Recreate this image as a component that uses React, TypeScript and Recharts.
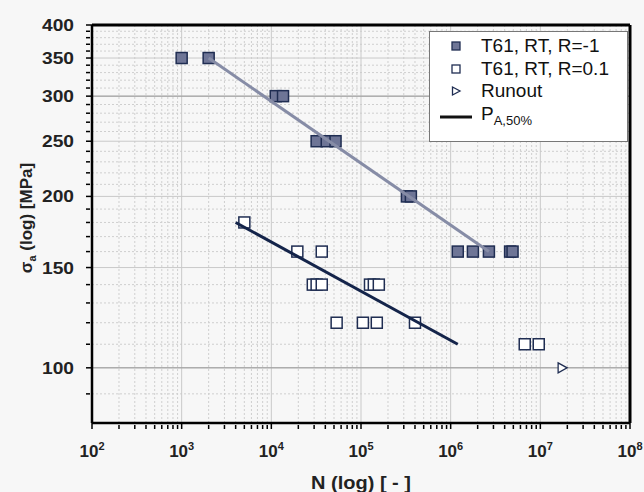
import React from "react";
import {
  CartesianGrid,
  Legend,
  ReferenceLine,
  Scatter,
  ScatterChart,
  XAxis,
  YAxis,
} from "recharts";

// T61, RT, R=-1 (filled squares)
const cyclesR1 = [1000, 2000, 11200, 13500, 32000, 41500, 52000, 325000, 360000, 1200000, 1770000, 2670000, 4600000, 4900000];
const stressR1 = [350, 350, 300, 300, 250, 250, 250, 200, 200, 160, 160, 160, 160, 160];

// T61, RT, R=0.1 (open squares)
const cyclesR01 = [5000, 19500, 36500, 29000, 32000, 36500, 126000, 139000, 158000, 53500, 105000, 150000, 400000, 6700000, 9600000];
const stressR01 = [180, 160, 160, 140, 140, 140, 140, 140, 140, 120, 120, 120, 120, 110, 110];

// runout
const cyclesRunout = [17500000];
const stressRunout = [100];

// P_A,50% fits
const fitR1Cycles = [2000, 2670000];
const fitR1Stress = [350, 160];
const fitR01Cycles = [4000, 1200000];
const fitR01Stress = [180, 110];

const xMajor = [1e2, 1e3, 1e4, 1e5, 1e6, 1e7, 1e8];
const xMinor = xMajor.slice(0, -1).flatMap((d) => [2, 3, 4, 5, 6, 7, 8, 9].map((m) => m * d));
const yMajor = [100, 150, 200, 250, 300, 350, 400];
const yMinor = [90, 110, 120, 130, 140, 160, 170, 180, 190, 210, 220, 230, 240, 260, 270, 280, 290, 310, 320, 330, 340, 360, 370, 380, 390];
const yDark = [100, 300];

const toPoints = (xs: number[], ys: number[]) => xs.map((x, i) => ({ x, y: ys[i] }));

const r1Data = toPoints(cyclesR1, stressR1);
const r01Data = toPoints(cyclesR01, stressR01);
const runoutData = toPoints(cyclesRunout, stressRunout);
const fitR1Data = toPoints(fitR1Cycles, fitR1Stress);
const fitR01Data = toPoints(fitR01Cycles, fitR01Stress);

const FONT = "'Liberation Sans', Arial, sans-serif";
const NAVY = "#1f2d52";
const FILL = "#6e7596";

const FilledSquare = (p: any) => (
  <rect x={p.cx - 5.5} y={p.cy - 5.5} width={11} height={11} fill={FILL} stroke={NAVY} strokeWidth={1.5} />
);
const OpenSquare = (p: any) => (
  <rect x={p.cx - 5.5} y={p.cy - 5.5} width={11} height={11} fill="#fff" stroke={NAVY} strokeWidth={1.5} />
);
const Triangle = (p: any) => (
  <path d={`M${p.cx - 4},${p.cy - 5} L${p.cx + 5},${p.cy} L${p.cx - 4},${p.cy + 5} Z`} fill="#fff" stroke={NAVY} strokeWidth={1.3} />
);
const NoDot = () => <g />;

const XTick = (props: any) => {
  const { x, y, payload } = props;
  const v = payload.value;
  const major = xMajor.includes(v);
  return (
    <g>
      <line x1={x} x2={x} y1={y} y2={y - (major ? 7 : 4)} stroke="#000" strokeWidth={1.5} />
      {major && (
        <text x={x} y={y + 28} textAnchor="middle" fontFamily={FONT} fontWeight="bold" fontSize={17} fill="#222">
          10<tspan dy={-7} fontSize={11}>{Math.round(Math.log10(v))}</tspan>
        </text>
      )}
    </g>
  );
};

const YTick = (props: any) => {
  const { x, y, payload } = props;
  const v = payload.value;
  const major = yMajor.includes(v);
  return (
    <g>
      <line x1={x} x2={x + (major ? 7 : 4)} y1={y} y2={y} stroke="#000" strokeWidth={1.5} />
      {major && (
        <text x={x - 12} y={y} dy={6} textAnchor="end" fontFamily={FONT} fontWeight="bold" fontSize={17} textLength={32} lengthAdjust="spacingAndGlyphs" fill="#222">
          {v}
        </text>
      )}
    </g>
  );
};

const YLabel = (props: any) => {
  const vb = props.viewBox;
  const cx = vb.x + 26;
  const cy = 218;
  return (
    <text x={cx} y={cy} dy={6} transform={`rotate(-90, ${cx}, ${cy})`} textAnchor="middle" fontFamily={FONT} fontWeight="bold" fontSize={17} fill="#222">
      σ<tspan dy={4} fontSize={11}>a</tspan>
      <tspan dy={-4}> (log) [MPa]</tspan>
    </text>
  );
};

const XLabel = (props: any) => {
  const vb = props.viewBox;
  return (
    <text x={vb.x + vb.width / 2} y={vb.y + 66} textAnchor="middle" fontFamily={FONT} fontWeight="bold" fontSize={18} textLength={100} lengthAdjust="spacingAndGlyphs" fill="#222">
      N (log) [ - ]
    </text>
  );
};

const legendRows = [
  { key: "r1", label: "T61, RT, R=-1" },
  { key: "r01", label: "T61, RT, R=0.1" },
  { key: "run", label: "Runout" },
  { key: "fit", label: "P" },
];

const LegendSymbol = ({ kind }: { kind: string }) => (
  <svg width={34} height={16} style={{ flex: "none" }}>
    {kind === "r1" && <rect x={13} y={4} width={8} height={8} fill={FILL} stroke={NAVY} strokeWidth={1.3} />}
    {kind === "r01" && <rect x={13} y={4} width={8} height={8} fill="#fff" stroke={NAVY} strokeWidth={1.3} />}
    {kind === "run" && <path d="M13.5,4 L21,8 L13.5,12 Z" fill="#fff" stroke={NAVY} strokeWidth={1.3} />}
    {kind === "fit" && <line x1={1} x2={33} y1={8} y2={8} stroke="#111" strokeWidth={3} />}
  </svg>
);

const LegendBox = () => (
  <div
    style={{
      background: "#fff",
      border: "1px solid #777",
      padding: "3px 0 9px 9px",
      fontFamily: FONT,
      fontSize: 19,
      color: "#111",
      lineHeight: "22.5px",
    }}
  >
    {legendRows.map((r) => (
      <div key={r.key} style={{ display: "flex", alignItems: "center", gap: 8 }}>
        <LegendSymbol kind={r.key} />
        <span>
          {r.label}
          {r.key === "fit" && <sub style={{ fontSize: 13 }}>A,50%</sub>}
        </span>
      </div>
    ))}
  </div>
);

export default function App() {
  return (
    <div style={{ position: "absolute", left: 0, top: 0, width: 644, height: 492, background: "#f7f7f7" }}>
      <ScatterChart width={644} height={492} margin={{ top: 25, right: 14, bottom: 0, left: 0 }}>
        <CartesianGrid horizontalValues={yMinor} verticalValues={xMinor} stroke="#cfcfcf" strokeDasharray="2 2" />
        <CartesianGrid horizontalValues={yMajor} verticalValues={xMajor} stroke="#c9c9c9" />
        <CartesianGrid horizontalValues={yDark} vertical={false} stroke="#9a9a9a" />
        <XAxis
          dataKey="x"
          type="number"
          scale="log"
          domain={[100, 1e8]}
          allowDataOverflow
          ticks={[...xMajor, ...xMinor]}
          interval={0}
          tick={<XTick />}
          tickLine={false}
          tickMargin={0}
          height={69}
          axisLine={{ stroke: "#000", strokeWidth: 2.5 }}
          label={<XLabel />}
        />
        <YAxis
          dataKey="y"
          type="number"
          scale="log"
          domain={[80, 400]}
          allowDataOverflow
          ticks={[...yMajor, ...yMinor]}
          interval={0}
          tick={<YTick />}
          tickLine={false}
          tickMargin={0}
          width={92}
          axisLine={{ stroke: "#000", strokeWidth: 2.5 }}
          label={<YLabel />}
        />
        <ReferenceLine y={400} stroke="#000" strokeWidth={3} />
        <ReferenceLine x={1e8} stroke="#000" strokeWidth={3} />
        <Scatter name="T61, RT, R=-1" data={r1Data} shape={<FilledSquare />} isAnimationActive={false} />
        <Scatter name="T61, RT, R=0.1" data={r01Data} shape={<OpenSquare />} isAnimationActive={false} />
        <Scatter name="Runout" data={runoutData} shape={<Triangle />} isAnimationActive={false} />
        <Scatter data={fitR1Data} line={{ stroke: "#868ca6", strokeWidth: 3 }} shape={<NoDot />} legendType="none" isAnimationActive={false} />
        <Scatter data={fitR01Data} line={{ stroke: "#14244a", strokeWidth: 3 }} shape={<NoDot />} legendType="none" isAnimationActive={false} />
        <Legend
          layout="vertical"
          align="center"
          verticalAlign="middle"
          content={<LegendBox />}
          wrapperStyle={{ top: 31, left: 429, width: 199 }}
        />
      </ScatterChart>
    </div>
  );
}
